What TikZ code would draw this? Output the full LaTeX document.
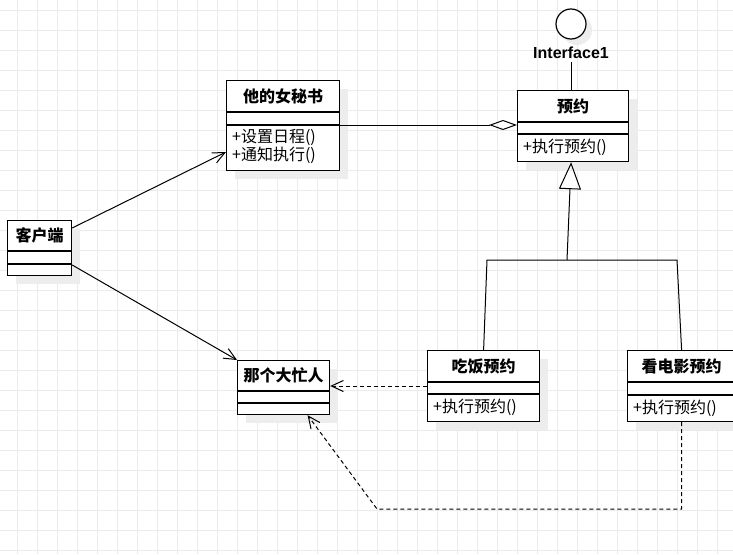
\documentclass[tikz,border=0pt]{standalone}
\usepackage{fontspec}
\setmainfont{Noto Sans CJK SC}
\newfontfamily\labelfont{Liberation Sans}
\usetikzlibrary{arrows.meta,shadows}

\begin{document}
\begin{tikzpicture}[x=1pt,y=-1pt,
    every node/.style={font=\fontsize{16}{18.5}\selectfont},
    gridline/.style={draw=black!8, line width=0.8pt},
    classbox/.style={draw, line width=1.2pt, fill=white, anchor=north west, inner sep=0pt,
        drop shadow={shadow xshift=8pt, shadow yshift=-8pt, fill=black!7, opacity=1}},
    title/.style={font=\fontsize{16}{18.5}\selectfont\bfseries},
    method/.style={anchor=west, inner sep=0pt, align=left},
    assoc/.style={line width=1pt, -{Straight Barb[length=12pt,width=11pt]}},
    dep/.style={assoc, dash pattern=on 4pt off 3pt},
    aggr/.style={line width=1pt, -{Diamond[open,length=28pt,width=10pt]}},
    inherit/.style={line width=1pt, -{Triangle[open,length=27pt,width=22pt]}}]

    \useasboundingbox (0,0) rectangle (733,554);

    % background grid
    \foreach \x in {17.5,37.5,...,733} {
        \draw[gridline] (\x,0) -- (\x,554);};
    \foreach \y in {10,30,...,554} {
        \draw[gridline] (0,\y) -- (733,\y);};

    % classes
    \node[classbox, minimum width=113pt, minimum height=90pt] (sec) at (226,80) {};
    \node[classbox, minimum width=111pt, minimum height=71pt] (iface) at (517,90) {};
    \node[classbox, minimum width=64pt, minimum height=55pt] (client) at (7,220) {};
    \node[classbox, minimum width=92pt, minimum height=54pt] (busy) at (237,360) {};
    \node[classbox, minimum width=112pt, minimum height=71pt] (eat) at (427,350) {};
    \node[classbox, minimum width=108pt, minimum height=71pt] (movie) at (627,350) {};
    \foreach \c/\a/\b in {sec/32/45, iface/32/44, client/31/44, busy/31/43, eat/32/44, movie/32/45} {
        \draw[line width=1.2pt] ([yshift=-\a pt]\c.north west) -- ([yshift=-\a pt]\c.north east);
        \draw[line width=1.2pt] ([yshift=-\b pt]\c.north west) -- ([yshift=-\b pt]\c.north east);};

    \node[title] (sec-name) at ([yshift=-16pt]sec.north) {他的女秘书};
    \node[title] (iface-name) at ([yshift=-16pt]iface.north) {预约};
    \node[title] (client-name) at ([yshift=-15.5pt]client.north) {客户端};
    \node[title] (busy-name) at ([yshift=-15.5pt]busy.north) {那个大忙人};
    \node[title] (eat-name) at ([yshift=-16pt]eat.north) {吃饭预约};
    \node[title] (movie-name) at ([yshift=-16pt]movie.north) {看电影预约};

    \node[method] (sec-ops) at ([xshift=6pt,yshift=-66.5pt]sec.north west) {+设置日程()\\+通知执行()};
    \node[method] (iface-ops) at ([xshift=6pt,yshift=-57.5pt]iface.north west) {+执行预约()};
    \node[method] (eat-ops) at ([xshift=6pt,yshift=-57.5pt]eat.north west) {+执行预约()};
    \node[method] (movie-ops) at ([xshift=6pt,yshift=-58pt]movie.north west) {+执行预约()};

    % interface lollipop
    \node[draw, circle, line width=1.2pt, fill=white, minimum size=30pt, inner sep=0pt,
        drop shadow={shadow xshift=6pt, shadow yshift=-6pt, fill=black!7, opacity=1}] (iface-ball) at (571,24) {};
    \node[font={\labelfont\fontsize{16}{18.5}\selectfont\bfseries}] (iface-label) at (571,53) {Interface1};
    \draw[line width=1pt] (iface-label.south) -- (iface-label.south |- iface.north);

    % connectors
    \draw[assoc] ([yshift=-8pt]client.north east) -- ([yshift=-72pt]sec.north west);
    \draw[assoc] ([yshift=-45pt]client.north east) -- (busy.north west);
    \draw[aggr] ([yshift=-45pt]sec.north east) -- ([yshift=-35pt]iface.north west);
    \coordinate (split) at (567,260);
    \draw[line width=1pt] (eat.north) -- (487,260) -- (677,260) -- (movie.north);
    \draw[inherit] (split) -- ([xshift=-2pt]iface.south);
    \draw[dep] ([yshift=-36pt]eat.north west) -- ([yshift=-26pt]busy.north east);
    \draw[dep] (movie.south) |- (377,509) -- ([xshift=24pt]busy.south);

\end{tikzpicture}
\end{document}
